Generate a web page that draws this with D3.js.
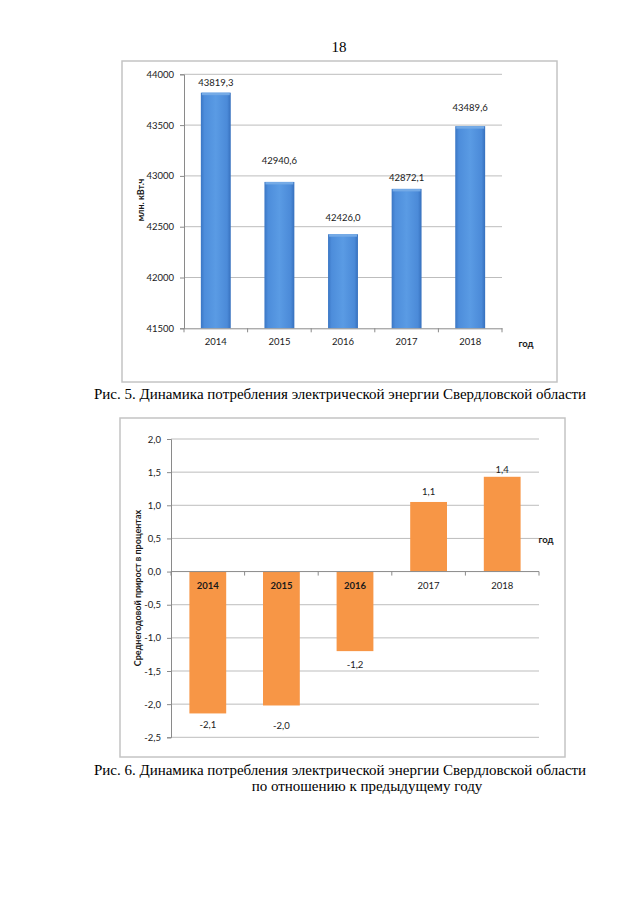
<!DOCTYPE html>
<html><head><meta charset="utf-8">
<script src="https://cdn.jsdelivr.net/npm/d3@7"></script>
<style>
html,body{margin:0;padding:0;background:#fff;}
svg{display:block;}
</style></head>
<body>
<script>
// ---- data ----
const years = ["2014", "2015", "2016", "2017", "2018"];
const consumption = [43819.3, 42940.6, 42426.0, 42872.1, 43489.6];
const consumptionTicks = [41500, 42000, 42500, 43000, 43500, 44000];
const growth = [-2.14, -2.02, -1.20, 1.05, 1.43];
const growthTicks = [-2.5, -2.0, -1.5, -1.0, -0.5, 0, 0.5, 1.0, 1.5, 2.0];
const pageNumber = "18";
const caption1 = "Рис. 5. Динамика потребления электрической энергии Свердловской области";
const caption2a = "Рис. 6. Динамика потребления электрической энергии Свердловской области";
const caption2b = "по отношению к предыдущему году";
const yTitle1 = "млн. кВт.ч";
const yTitle2 = "Среднегодовой прирост в процентах";
const xTitle = "год";
// label vertical nudges (layout only)
const label1Dy = [-10.6, -21, -17, -11.6, -19];
const label2Dy = [11, 20, 13, -10, -7];

const loc = d3.formatLocale({decimal: ",", thousands: "", grouping: [3], currency: ["", ""], minus: "-"});
const f1 = loc.format(".1f");

const W = 640, H = 905;
const svg = d3.select("body").append("svg").attr("width", W).attr("height", H);
svg.append("rect").attr("width", W).attr("height", H).attr("fill", "#fff");

const sans = "Lato, 'Liberation Sans', sans-serif";
const serif = "'Liberation Serif', 'Times New Roman', serif";
const txt = "#1a1a1a";

// page number
svg.append("text").attr("x", 339).attr("y", 47).attr("text-anchor", "middle").attr("dominant-baseline", "central")
  .attr("font-family", serif).attr("font-size", 15).attr("fill", "#000").text(pageNumber);

// gradient for blue bars
const defs = svg.append("defs");
const g1 = defs.append("linearGradient").attr("id", "blueGrad").attr("x1", 0).attr("x2", 1).attr("y1", 0).attr("y2", 0);
[["0%", "#3a76c4"], ["12%", "#4d8ddb"], ["50%", "#5a9be4"], ["88%", "#4b8ad8"], ["100%", "#3670bd"]]
  .forEach(([o, c]) => g1.append("stop").attr("offset", o).attr("stop-color", c));

// ================= Chart 1 =================
{
  svg.append("rect").attr("x", 122).attr("y", 61).attr("width", 435).attr("height", 321)
    .attr("fill", "#fff").attr("stroke", "#c4c4c4").attr("stroke-width", 1.5);

  const x = d3.scaleBand().domain(years).range([184, 502]).paddingInner(0.53).paddingOuter(0.265);
  const y = d3.scaleLinear().domain([41500, 44000]).range([328.3, 74.3]);
  const g = svg.append("g");

  g.selectAll("line.grid").data(consumptionTicks.filter(t => t !== 41500)).join("line")
    .attr("x1", 184).attr("x2", 502).attr("y1", d => y(d)).attr("y2", d => y(d))
    .attr("stroke", "#bdbdbd").attr("stroke-width", 1);

  const ya = g.append("g").attr("transform", "translate(184,0)")
    .call(d3.axisLeft(y).tickValues(consumptionTicks).tickFormat(d3.format("d")).tickSize(4).tickPadding(6));
  ya.select(".domain").attr("stroke", "#8a8a8a");
  ya.selectAll(".tick line").attr("stroke", "#8a8a8a");
  ya.selectAll("text").attr("font-family", sans).attr("font-size", 9.5).attr("fill", txt);

  g.selectAll("rect.bar").data(years).join("rect")
    .attr("x", d => x(d)).attr("width", x.bandwidth())
    .attr("y", (d, i) => y(consumption[i])).attr("height", (d, i) => y(41500) - y(consumption[i]))
    .attr("fill", "url(#blueGrad)");
  g.selectAll("rect.cap").data(years).join("rect")
    .attr("x", d => x(d) + 1).attr("width", x.bandwidth() - 2)
    .attr("y", (d, i) => y(consumption[i])).attr("height", 2.5)
    .attr("fill", "#74aae6");

  const xa = g.append("g").attr("transform", `translate(0,${y(41500)})`)
    .call(d3.axisBottom(x).tickSize(0).tickPadding(10));
  xa.select(".domain").attr("stroke", "#8a8a8a");
  xa.selectAll("text").attr("font-family", sans).attr("font-size", 9.5).attr("fill", txt);
  const bounds = d3.range(years.length + 1).map(i => 184 + i * x.step());
  g.selectAll("line.xt").data(bounds).join("line")
    .attr("x1", d => d).attr("x2", d => d).attr("y1", y(41500)).attr("y2", y(41500) + 4)
    .attr("stroke", "#8a8a8a");

  g.selectAll("text.val").data(years).join("text")
    .attr("x", d => x(d) + x.bandwidth() / 2)
    .attr("y", (d, i) => y(consumption[i]) + label1Dy[i])
    .attr("text-anchor", "middle").attr("dominant-baseline", "central")
    .attr("font-family", sans).attr("font-size", 9.5).attr("fill", txt)
    .text((d, i) => f1(consumption[i]));

  g.append("text").attr("x", 526).attr("y", 343).attr("text-anchor", "middle").attr("dominant-baseline", "central")
    .attr("font-family", sans).attr("font-size", 9.5).attr("font-weight", "bold").attr("fill", txt).text(xTitle);
  g.append("text").attr("transform", "translate(140,200) rotate(-90)").attr("text-anchor", "middle")
    .attr("dominant-baseline", "central")
    .attr("font-family", sans).attr("font-size", 9).attr("font-weight", "bold").attr("fill", txt).text(yTitle1);
}

svg.append("text").attr("x", 340).attr("y", 394).attr("text-anchor", "middle").attr("dominant-baseline", "central")
  .attr("font-family", serif).attr("font-size", 15).attr("fill", "#000").text(caption1);

// ================= Chart 2 =================
{
  svg.append("rect").attr("x", 120).attr("y", 418).attr("width", 445).attr("height", 339)
    .attr("fill", "#fff").attr("stroke", "#c4c4c4").attr("stroke-width", 1.5);

  const x = d3.scaleBand().domain(years).range([171, 539]).paddingInner(0.5).paddingOuter(0.25);
  const y = d3.scaleLinear().domain([-2.5, 2.0]).range([737.3, 439]);
  const g = svg.append("g");

  g.selectAll("line.grid").data(growthTicks.filter(t => t !== 0)).join("line")
    .attr("x1", 171).attr("x2", 539).attr("y1", d => y(d)).attr("y2", d => y(d))
    .attr("stroke", "#bdbdbd").attr("stroke-width", 1);

  const ya = g.append("g").attr("transform", "translate(171,0)")
    .call(d3.axisLeft(y).tickValues(growthTicks).tickFormat(f1).tickSize(4).tickPadding(6));
  ya.select(".domain").attr("stroke", "#8a8a8a");
  ya.selectAll(".tick line").attr("stroke", "#8a8a8a");
  ya.selectAll("text").attr("font-family", sans).attr("font-size", 9.5).attr("fill", txt);

  g.selectAll("rect.bar").data(years).join("rect")
    .attr("x", d => x(d)).attr("width", x.bandwidth())
    .attr("y", (d, i) => Math.min(y(0), y(growth[i])))
    .attr("height", (d, i) => Math.abs(y(growth[i]) - y(0)))
    .attr("fill", "#f79646");

  g.append("line").attr("x1", 171).attr("x2", 539).attr("y1", y(0)).attr("y2", y(0)).attr("stroke", "#8a8a8a");
  const bounds = d3.range(years.length + 1).map(i => 171 + i * x.step());
  g.selectAll("line.xt").data(bounds).join("line")
    .attr("x1", d => d).attr("x2", d => d).attr("y1", y(0)).attr("y2", y(0) + 4)
    .attr("stroke", "#8a8a8a");

  g.selectAll("text.yr").data(years).join("text")
    .attr("x", d => x(d) + x.bandwidth() / 2).attr("y", y(0) + 14)
    .attr("text-anchor", "middle").attr("dominant-baseline", "central")
    .attr("font-family", sans).attr("font-size", 9.5)
    .attr("font-weight", (d, i) => growth[i] < 0 ? "bold" : "normal")
    .attr("fill", txt).text(d => d);

  g.selectAll("text.val").data(years).join("text")
    .attr("x", d => x(d) + x.bandwidth() / 2)
    .attr("y", (d, i) => y(growth[i]) + label2Dy[i])
    .attr("text-anchor", "middle").attr("dominant-baseline", "central")
    .attr("font-family", sans).attr("font-size", 9.5).attr("fill", txt)
    .text((d, i) => f1(growth[i]));

  g.append("text").attr("x", 546).attr("y", 539).attr("text-anchor", "middle").attr("dominant-baseline", "central")
    .attr("font-family", sans).attr("font-size", 9.5).attr("font-weight", "bold").attr("fill", txt).text(xTitle);
  g.append("text").attr("transform", "translate(137,588) rotate(-90)").attr("text-anchor", "middle")
    .attr("dominant-baseline", "central")
    .attr("font-family", sans).attr("font-size", 9).attr("font-weight", "bold").attr("fill", txt).text(yTitle2);
}

svg.append("text").attr("x", 340).attr("y", 770).attr("text-anchor", "middle").attr("dominant-baseline", "central")
  .attr("font-family", serif).attr("font-size", 15).attr("fill", "#000").text(caption2a);
svg.append("text").attr("x", 367).attr("y", 786).attr("text-anchor", "middle").attr("dominant-baseline", "central")
  .attr("font-family", serif).attr("font-size", 15).attr("fill", "#000").text(caption2b);
</script>
</body></html>
